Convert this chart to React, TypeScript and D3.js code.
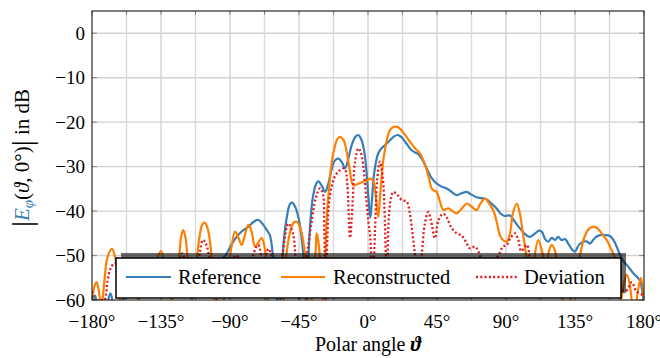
import React from "react";
import * as d3 from "d3";

const xTicks = [-180, -135, -90, -45, 0, 45, 90, 135, 180];
const xMinor = [-157.5, -112.5, -67.5, -22.5, 22.5, 67.5, 112.5, 157.5];
const yTicks = [0, -10, -20, -30, -40, -50, -60];

const seriesNames = ["Reference", "Reconstructed", "Deviation"];

const referenceData: [number, number][] = [
  [-180, -61], [-178, -59], [-176, -62], [-172, -63], [-168, -58.5], [-165, -62], [-160, -60], [-150, -57],
  [-140, -55], [-130, -54], [-120, -56], [-110, -53], [-100, -52], [-93, -50], [-89, -47.5], [-85.6, -45.8],
  [-82.4, -44.6], [-78, -43.5], [-74.5, -42.4], [-71.5, -42], [-68.5, -43], [-66, -44.3], [-64, -45.4],
  [-62, -50], [-60, -57], [-58, -63], [-56.5, -56], [-55, -47], [-53, -41.5], [-51, -38.5], [-49.5, -38.1],
  [-47.5, -39], [-45, -42], [-43, -47], [-41, -55], [-40, -62], [-38.8, -50], [-37.5, -42], [-36, -37],
  [-34, -34], [-32.4, -33.3], [-30, -34.4], [-28, -35.7], [-26, -34], [-24, -31], [-21.5, -28.6],
  [-19.3, -28.2], [-17, -29], [-15, -30.4], [-13, -28.5], [-10.5, -25], [-8, -23.2], [-6.3, -22.9],
  [-4.5, -23.8], [-2.5, -26.5], [-1, -31], [0.3, -37], [1.5, -41.5], [2.5, -38], [4, -31.5], [6.7, -27],
  [9, -25.8], [11, -25.2], [14, -24.2], [17, -23.2], [19.8, -22.9], [22.5, -23.6], [25, -24.8],
  [27.4, -25.9], [30, -26.7], [32.8, -27.2], [35.5, -28.5], [38.3, -30.4], [41.5, -32.6], [44.8, -33.8],
  [48, -34.5], [51.3, -34.9], [54.5, -35.7], [57.8, -36.4], [61, -36], [64.4, -35.7], [67.5, -36.3],
  [70.9, -36.9], [74, -37.1], [77.4, -37.4], [80.5, -38.3], [83.9, -39.4], [86.5, -40.6], [89, -41.1],
  [92.6, -41], [96, -42.5], [99.1, -43.9], [102.5, -45.2], [105.7, -45.8], [109, -45], [111.5, -44.4],
  [113.5, -44.7], [115.5, -46.3], [117.6, -46.9], [119.8, -46], [122, -46.5], [124, -45.8], [126.3, -46.5],
  [128.5, -46.3], [130.6, -47.3], [133, -48.6], [135, -49.1], [137.5, -47.6], [140.4, -46.9], [142.5, -46.8],
  [144.8, -47.3], [148, -46], [151.3, -45.4], [154.5, -45.4], [157.8, -45.6], [160, -46.5], [162.2, -48],
  [164.5, -50], [166.5, -51.2], [170, -52.6], [173, -54], [176, -55], [177.6, -55.8], [178.8, -58], [180, -61],
];

const reconstructedData: [number, number][] = [
  [-180, -60], [-178, -56.5], [-177, -56], [-175.5, -58], [-174, -62], [-172, -56], [-170, -50.5],
  [-167, -48.5], [-164.5, -51], [-162, -58], [-160, -63], [-150, -60], [-145, -56], [-140, -53],
  [-135, -49], [-132, -53], [-128, -60], [-124, -54], [-122, -46], [-120.6, -44.3], [-119, -46],
  [-117, -54], [-115, -60], [-112, -52], [-110, -46], [-108, -43], [-106.5, -42.6], [-104.5, -44],
  [-102, -50], [-100, -60], [-96, -62], [-92, -55], [-89, -48], [-86.7, -44.6], [-84.5, -46],
  [-82.4, -47.6], [-80, -45], [-78, -43.1], [-76, -44.5], [-73.7, -48], [-71.5, -47], [-69.3, -46.1],
  [-67.5, -48], [-66, -54], [-64, -62], [-57, -62], [-54, -52], [-51, -45], [-48.5, -42.6], [-46.5, -42.4],
  [-44, -44], [-41, -50], [-40, -58], [-38, -62], [-36, -58], [-34, -48], [-33.5, -45], [-32.5, -46.5],
  [-31, -52], [-29.5, -60], [-28, -52], [-27, -42], [-25.9, -36.8], [-24, -30], [-22, -26], [-20, -23.8],
  [-18.3, -23.3], [-16, -24], [-14, -26.5], [-12, -30.5], [-9.6, -34.2], [-6, -33.8], [-3, -33.4],
  [0, -33], [1.3, -32.7], [3.5, -33.2], [4.6, -35.3], [5.8, -39], [6.7, -41.3], [8, -36], [10, -28.5],
  [12, -24.5], [14.3, -21.8], [16.5, -21.1], [18.7, -21], [21, -21.5], [24, -22.8], [27.4, -24.4],
  [30.5, -25.8], [33.9, -27], [36, -28.5], [38.3, -30.8], [40, -33], [41.5, -34.9], [43, -35.4],
  [44.8, -35.7], [47, -38], [49.1, -39.8], [50.5, -39.6], [52.4, -39.4], [55, -40], [57.8, -40.5],
  [61, -39.5], [64.4, -38.3], [67.5, -39], [70.9, -39.8], [73, -38.5], [76.3, -37.2], [79, -38.3],
  [81.7, -39.8], [84, -42.5], [86, -45.4], [88, -46.5], [90.4, -46.9], [92.6, -45], [94.5, -40.5],
  [97, -38.3], [99, -40.5], [101, -45], [102.4, -48], [104.5, -54], [106, -58], [108, -52], [111, -46.5],
  [113.5, -49], [116, -53], [118, -49], [119.8, -47.6], [122, -49], [124, -54], [127, -60], [130, -62],
  [134, -56], [138, -50.3], [141, -46], [144, -44], [147, -43.5], [150, -44], [153, -45.3], [155.7, -46.5],
  [158.5, -48.5], [161, -50.6], [163, -55], [165, -60], [166.5, -57], [168.7, -54.3], [170.5, -56],
  [172, -60], [174, -63], [176, -58], [178, -55], [180, -60],
];

const deviationData: [number, number][] = [
  [-180, -58], [-178, -62], [-176, -60], [-172, -60], [-170, -56], [-168, -53], [-165, -51.7], [-162, -53],
  [-160, -57], [-150, -58], [-140, -55], [-135, -52], [-130, -58], [-125, -54], [-121, -49.5], [-118, -55],
  [-114, -58], [-110, -50], [-107.6, -46.5], [-105, -48], [-102, -55], [-98, -60], [-94, -56], [-90, -52],
  [-86, -50], [-82, -53], [-78, -55], [-75, -50], [-71.6, -47.6], [-68, -52], [-65, -48.5], [-63, -50],
  [-60, -56], [-56, -50], [-52, -42.8], [-49, -45], [-47, -52], [-45, -60], [-43, -55], [-40, -50],
  [-37, -43], [-34, -37], [-31.3, -34.9], [-29.5, -36], [-28.5, -45], [-27.5, -60], [-26.5, -46],
  [-25, -37], [-22, -32.5], [-19, -31], [-16.5, -30.4], [-15, -30.6], [-13.5, -34], [-11.7, -46],
  [-10, -38], [-8.5, -29], [-6.3, -25.9], [-5, -26.5], [-3, -30], [-1, -38], [0.5, -43], [1.5, -46],
  [3, -58], [4.5, -45], [6, -33], [7.8, -28.9], [9.5, -32], [11, -42], [12.2, -58], [13.5, -42], [15, -37],
  [16.5, -35.7], [19, -36.3], [22, -37.5], [25.2, -37.9], [27, -40], [29, -45], [30.7, -50], [33, -56],
  [35, -50], [37, -43], [39.3, -40.2], [41, -42], [43.7, -46.1], [46, -42], [49.1, -40.6], [51.5, -41.5],
  [54, -43.5], [57.8, -45], [61, -45.5], [64, -47], [66.5, -48.4], [69.8, -48], [73, -50], [76, -55],
  [80, -52], [85, -50], [88, -48], [90.4, -47.7], [93, -46], [95.9, -45], [98, -46.5], [100, -49],
  [103.5, -47.6], [106, -51], [110, -55], [120, -56], [130, -58], [140, -57], [150, -55], [160, -56],
  [168, -58], [172, -56], [175, -58], [180, -59],
];

const colors = ["#377eb8", "#ff7f00", "#e41a1c"];

export default function App() {
  const W = 660, H = 358;
  const left = 92, right = 644, top = 11, bottom = 300;
  const x = d3.scaleLinear().domain([-180, 180]).range([left, right]);
  const y = d3.scaleLinear().domain([-60, 5]).range([bottom, top]);
  const line = d3
    .line<[number, number]>()
    .x((d) => x(d[0]))
    .y((d) => y(d[1]))
    .curve(d3.curveCatmullRom.alpha(0.5));

  const font = "'Liberation Serif', 'Times New Roman', serif";
  const all = [referenceData, reconstructedData, deviationData];

  const legX = 116, legY = 258, legW = 505, legH = 40;
  const legItems = [
    { x0: 126, x1: 171, tx: 178 },
    { x0: 281, x1: 325, tx: 333 },
    { x0: 476, x1: 517, tx: 524 },
  ];

  return (
    <svg width={W} height={H} style={{ position: "absolute", left: 0, top: 0, background: "#fff" }} fontFamily={font}>
      <defs>
        <clipPath id="plotclip">
          <rect x={left} y={top} width={right - left} height={bottom - top} />
        </clipPath>
      </defs>
      <rect x={0} y={0} width={W} height={H} fill="#fff" />
      {xMinor.map((t) => (
        <line key={"xm" + t} x1={x(t)} x2={x(t)} y1={top} y2={bottom} stroke="#dadada" strokeWidth={1.4} />
      ))}
      {xTicks.slice(1, -1).map((t) => (
        <line key={"xg" + t} x1={x(t)} x2={x(t)} y1={top} y2={bottom} stroke="#c0c0c0" strokeWidth={1} />
      ))}
      {yTicks.slice(0, -1).map((t) => (
        <line key={"yg" + t} x1={left} x2={right} y1={y(t)} y2={y(t)} stroke="#d2d2d2" strokeWidth={1.4} />
      ))}
      {[...xTicks, ...xMinor].map((t) => (
        <g key={"xt" + t}>
          <line x1={x(t)} x2={x(t)} y1={top} y2={top + 4} stroke="#888" strokeWidth={1} />
          <line x1={x(t)} x2={x(t)} y1={bottom} y2={bottom - 4} stroke="#888" strokeWidth={1} />
        </g>
      ))}
      {yTicks.map((t) => (
        <g key={"yt" + t}>
          <line x1={left} x2={left + 5} y1={y(t)} y2={y(t)} stroke="#888" strokeWidth={1} />
          <line x1={right} x2={right - 5} y1={y(t)} y2={y(t)} stroke="#888" strokeWidth={1} />
        </g>
      ))}
      <g clipPath="url(#plotclip)">
        {all.map((data, i) => (
          <path
            key={i}
            d={line(data) || ""}
            fill="none"
            stroke={colors[i]}
            strokeWidth={i === 2 ? 2.3 : 2.2}
            strokeDasharray={i === 2 ? "2 2.3" : undefined}
            strokeLinejoin="round"
          />
        ))}
      </g>
      <rect x={left} y={top} width={right - left} height={bottom - top} fill="none" stroke="#000" strokeWidth={1} />
      {yTicks.map((t) => (
        <text key={"yl" + t} x={85} y={y(t)} dy="0.35em" textAnchor="end" fontSize={19}>
          {t < 0 ? "\u2212" + Math.abs(t) : String(t)}
        </text>
      ))}
      {xTicks.map((t) => (
        <text key={"xl" + t} x={x(t)} y={328} textAnchor="middle" fontSize={19}>
          {(t < 0 ? "\u2212" + Math.abs(t) : String(t)) + "\u00b0"}
        </text>
      ))}
      <text x={368} y={351} textAnchor="middle" fontSize={20}>
        Polar angle <tspan fontStyle="italic" fontWeight="bold">ϑ</tspan>
      </text>
      <text transform="translate(29,158) rotate(-90)" textAnchor="middle" fontSize={21}>
        <tspan fontSize={30} dy="3">|</tspan>
        <tspan fontStyle="italic" fill={colors[0]} dy="-3">E</tspan>
        <tspan fontStyle="italic" fill={colors[0]} fontSize={15} dy="4">φ</tspan>
        <tspan dy="-4">(</tspan>
        <tspan fontStyle="italic">ϑ</tspan>
        <tspan>, 0°)</tspan>
        <tspan fontSize={30} dy="3">|</tspan>
        <tspan dy="-3"> in dB</tspan>
      </text>
      <rect x={legX + 5} y={legY - 5} width={legW} height={legH} fill="#000" opacity={0.58} />
      <rect x={legX} y={legY} width={legW} height={legH} fill="#fff" stroke="#000" strokeWidth={1.5} />
      {legItems.map((it, i) => (
        <g key={"lg" + i}>
          <line
            x1={it.x0}
            x2={it.x1}
            y1={legY + 19}
            y2={legY + 19}
            stroke={colors[i]}
            strokeWidth={i === 2 ? 2.3 : 2.2}
            strokeDasharray={i === 2 ? "2 2.3" : undefined}
          />
          <text x={it.tx} y={legY + 26} fontSize={20.5}>
            {seriesNames[i]}
          </text>
        </g>
      ))}
    </svg>
  );
}
